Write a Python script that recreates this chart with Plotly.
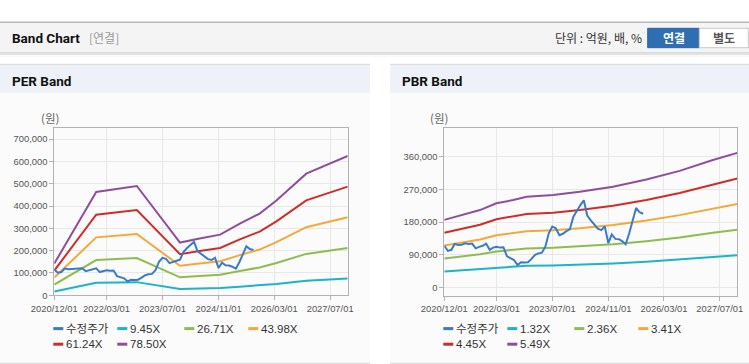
import pandas as pd
import plotly.graph_objects as go

# ---------------- data ----------------
price_dates = pd.date_range("2020-12-01", "2025-09-01", freq="MS")
price = [115000, 101000, 104000, 120000, 117000, 118000, 122000, 120000, 121000, 108000,
         112000, 115000, 121000, 104000, 110000, 112000, 110000, 111000, 86000, 80000,
         76000, 62000, 70000, 69000, 70000, 79000, 90000, 94000, 96000, 112000,
         150000, 168000, 163000, 144000, 148000, 155000, 160000, 195000, 212000, 226000,
         240000, 198000, 185000, 175000, 162000, 158000, 168000, 122000, 146000, 134000,
         133000, 128000, 119000, 148000, 185000, 219000, 207000, 203000]

per_band_dates = ["2020-12-01", "2021-12-01", "2022-11-20", "2023-12-01", "2024-05-20", "2024-11-15",
                  "2025-05-05", "2025-10-25", "2026-03-20", "2026-12-05", "2027-12-01"]
per_945 = [17100, 55800, 59000, 28400, 30600, 32700, 38700, 44000, 51100, 65600, 75100]
per_2671 = [48300, 157600, 166700, 80400, 86500, 92400, 109200, 124500, 144500, 185400, 212300]
per_4398 = [79600, 259500, 274400, 132400, 142500, 152200, 179900, 204900, 237900, 305200, 349600]
per_6124 = [110800, 361300, 382100, 184300, 198400, 211900, 250500, 285400, 331300, 425000, 486900]
per_7850 = [142100, 463200, 489800, 236300, 254300, 271600, 321100, 365800, 424700, 544800, 624100]

pbr_band_dates = ["2020-12-01", "2021-10-08", "2022-03-01", "2022-07-25", "2022-11-19", "2023-07-08",
                  "2024-02-26", "2024-12-12", "2025-09-29", "2026-07-16", "2027-05-02", "2027-12-01"]
pbr_132 = [44700, 51200, 55700, 57800, 60100, 61100, 63200, 66700, 71400, 77100, 84200, 89000]
pbr_236 = [80000, 91600, 99600, 103400, 107400, 109300, 113000, 119200, 127700, 137800, 150600, 159100]
pbr_341 = [115600, 132300, 143900, 149400, 155200, 157900, 163300, 172200, 184500, 199100, 217600, 229800]
pbr_445 = [150900, 172700, 187800, 194900, 202500, 206000, 213200, 224700, 240700, 259900, 283900, 299900]
pbr_549 = [186100, 213000, 231700, 240500, 249800, 254200, 263000, 277200, 297000, 320600, 350300, 370000]

per_names = ["수정주가", "9.45X", "26.71X", "43.98X", "61.24X", "78.50X"]
pbr_names = ["수정주가", "1.32X", "2.36X", "3.41X", "4.45X", "5.49X"]
colors = ["#3a7bc8", "#1db3c8", "#8fbc4f", "#f5a83a", "#cf2d29", "#8e4e9b"]

x_tickvals = ["2020-12-01", "2022-03-01", "2023-07-01", "2024-11-01", "2026-03-01", "2027-07-01"]
x_ticktext = ["2020/12/01", "2022/03/01", "2023/07/01", "2024/11/01", "2026/03/01", "2027/07/01"]
per_yticks = [0, 100000, 200000, 300000, 400000, 500000, 600000, 700000]
pbr_yticks = [0, 90000, 180000, 270000, 360000]

# ---------------- layout helpers ----------------
W, H = 749, 364
def X(px): return px / W
def Y(py): return 1 - py / H

fig = go.Figure()

per_bands = [per_945, per_2671, per_4398, per_6124, per_7850]
pbr_bands = [pbr_132, pbr_236, pbr_341, pbr_445, pbr_549]
for i, vals in enumerate(per_bands):
    fig.add_trace(go.Scatter(x=per_band_dates, y=vals, mode="lines", name=per_names[i + 1],
                             line=dict(color=colors[i + 1], width=2), xaxis="x", yaxis="y",
                             showlegend=False))
fig.add_trace(go.Scatter(x=price_dates, y=price, mode="lines", name=per_names[0],
                         line=dict(color=colors[0], width=2), xaxis="x", yaxis="y", showlegend=False))
for i, vals in enumerate(pbr_bands):
    fig.add_trace(go.Scatter(x=pbr_band_dates, y=vals, mode="lines", name=pbr_names[i + 1],
                             line=dict(color=colors[i + 1], width=2), xaxis="x2", yaxis="y2",
                             showlegend=False))
fig.add_trace(go.Scatter(x=price_dates, y=price, mode="lines", name=pbr_names[0],
                         line=dict(color=colors[0], width=2), xaxis="x2", yaxis="y2", showlegend=False))

tickfont = dict(family="Liberation Sans, Arial, sans-serif", size=9.4, color="#555555")
axis_common = dict(showline=True, linecolor="#b2b2b2", linewidth=1, mirror=True,
                   ticks="outside", ticklen=4, tickcolor="#b2b2b2", automargin=False,
                   showgrid=True, gridcolor="#e8e8e8", zeroline=False, tickfont=tickfont)

xrange = ["2020-12-01", "2027-12-01"]
fig.update_layout(
    template="none", showlegend=False,
    width=W, height=H, margin=dict(l=0, r=0, t=0, b=0, pad=0, autoexpand=False),
    paper_bgcolor="#ffffff", plot_bgcolor="#ffffff",
    xaxis=dict(domain=[X(54.3), X(347.7)], type="date", range=xrange,
               tickvals=x_tickvals, ticktext=x_ticktext, anchor="y", **axis_common),
    yaxis=dict(domain=[Y(295.3), Y(128.3)], range=[0, 748000], tickvals=per_yticks,
               tickformat=",d", anchor="x", **axis_common),
    xaxis2=dict(domain=[X(444.3), X(737.3)], type="date", range=xrange,
                tickvals=x_tickvals, ticktext=x_ticktext, anchor="y2", **axis_common),
    yaxis2=dict(domain=[Y(295.7), Y(128.3)], range=[-21950, 437400], tickvals=pbr_yticks,
                tickformat=",d", anchor="x2", **axis_common),
)

shapes = []
def rect(x0, y0, x1, y1, fill, lc=None, lw=0):
    shapes.append(dict(type="rect", xref="paper", yref="paper", x0=X(x0), x1=X(x1),
                       y0=Y(y1), y1=Y(y0), fillcolor=fill,
                       line=dict(color=lc or fill, width=lw), layer="below"))
def hline(x0, x1, y, color, w=1):
    shapes.append(dict(type="line", xref="paper", yref="paper", x0=X(x0), x1=X(x1),
                       y0=Y(y), y1=Y(y), line=dict(color=color, width=w), layer="below"))

# header bar
rect(0, 22.3, 749, 53, "#f4f4f4")
hline(0, 749, 22.3, "#b8b8b8", 1.5)
hline(0, 749, 53, "#c4c4c4", 1)
hline(0, 749, 54.5, "#e4e4e4", 1)
hline(0, 749, 56, "#f2f2f2", 1)
# buttons
rect(647.7, 28.3, 699.3, 47.7, "#2f6eb3", "#2a64a5", 1)
rect(699.3, 28.3, 748.3, 47.7, "#ffffff", "#c8c8c8", 1)
# panels
for (a, b) in [(0, 370), (390, 749)]:
    rect(a, 64.3, b, 93, "#eef2f8")
    rect(a, 93, b, 363, "#fbfbfb")
    hline(a, b, 64.3, "#d6d6d6", 1)
    hline(a, b, 363.3, "#d6d6d6", 1)

annotations = []
def text(px, py, s, size, color, anchor="left", family="Noto Sans CJK KR, sans-serif"):
    annotations.append(dict(xref="paper", yref="paper", x=X(px), y=Y(py), text=s, showarrow=False,
                            xanchor=anchor, yanchor="middle",
                            font=dict(family=family, size=size, color=color), borderpad=0))

text(10.5, 38, "<b>Band Chart</b>", 13.5, "#111111", family="Roboto, sans-serif")
text(88, 38, "[연결]", 12, "#9a9a9a")
text(643, 38, "단위 : 억원, 배, %", 12, "#333333", anchor="right")
text(673.5, 38, "<b>연결</b>", 12, "#ffffff", anchor="center")
text(724, 38, "<b>별도</b>", 12, "#555555", anchor="center")
text(10.5, 80.7, "<b>PER Band</b>", 13.5, "#111111", family="Roboto, sans-serif")
text(400.5, 80.7, "<b>PBR Band</b>", 13.5, "#111111", family="Roboto, sans-serif")
text(49.5, 118.3, "(원)", 11.5, "#666666", anchor="center")
text(439, 118.3, "(원)", 11.5, "#666666", anchor="center")

# legends
legfont = "Liberation Sans, Arial, Noto Sans CJK KR, sans-serif"
offsets = [(-1, 0), (63, 0), (130, 0), (194, 0), (-1, 1), (63, 1)]
for left, names in [(54.3, per_names), (444.3, pbr_names)]:
    for i, nm in enumerate(names):
        dx, row = offsets[i]
        ry = 328.6 if row == 0 else 344.2
        sx = left + dx
        shapes.append(dict(type="line", xref="paper", yref="paper", x0=X(sx), x1=X(sx + 10),
                           y0=Y(ry), y1=Y(ry), line=dict(color=colors[i], width=3)))
        text(sx + 11.5, ry, nm, 11.5, "#333333", family=legfont)

fig.update_layout(shapes=shapes, annotations=annotations)

fig.write_html("out.html", config={"displayModeBar": False, "staticPlot": True},
               post_script="document.body.style.margin='0px';document.body.style.overflow='hidden';")
